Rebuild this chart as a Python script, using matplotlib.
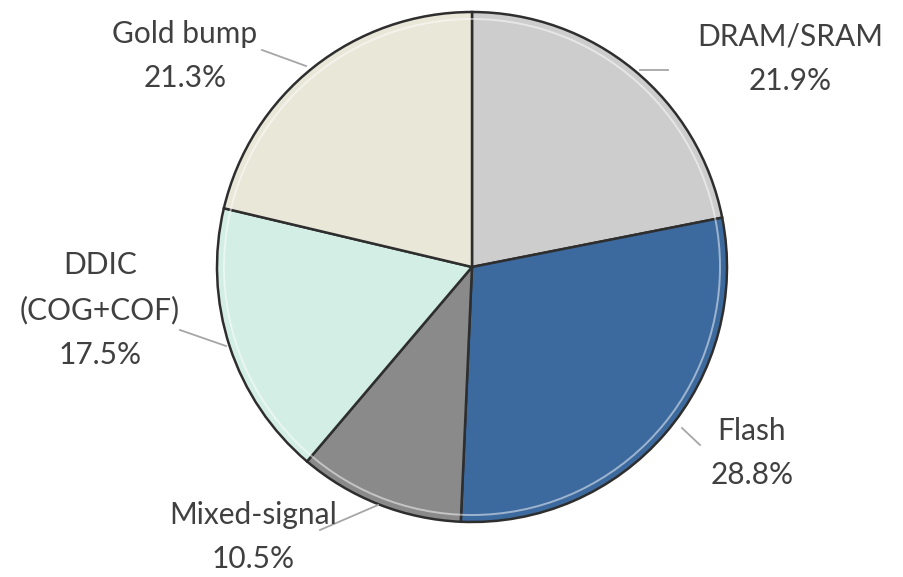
import matplotlib.pyplot as plt
from matplotlib.patches import Circle

labels = ["DRAM/SRAM", "Flash", "Mixed-signal", "DDIC\n(COG+COF)", "Gold bump"]
shares = [21.9, 28.8, 10.5, 17.5, 21.3]
colors = ["#cdcdcd", "#3d6a9e", "#8a8a8a", "#d3eee5", "#e9e7d8"]

# label text anchor (pixel coords of the reference, y down) and leader lines
label_pos = [(790, 59), (752, 453), (253, 537), (100, 310), (185, 56)]
leaders = [[(640, 70), (668, 70)],
           [(682, 428), (700, 445)],
           [(378, 505), (320, 530)],
           [(180, 330), (226, 346)],
           [(262, 50), (306, 66)]]

W, H = 904, 577
cx, cy, r = 472, 267, 255

plt.rcParams['font.family'] = ['Lato', 'DejaVu Sans']
fig = plt.figure(figsize=(W / 100, H / 100), dpi=100)
ax = fig.add_axes([0, 0, 1, 1])

wedges, _ = ax.pie(shares, colors=colors, startangle=90, counterclock=False,
                   center=(cx, H - cy), radius=r,
                   wedgeprops=dict(edgecolor="#2e2e2e", linewidth=1.8))
# soft bevel ring just inside the rim
ax.add_patch(Circle((cx, H - cy), r - 7, fill=False, edgecolor="white",
                    linewidth=1.4, alpha=0.5))

for lab, val, (x, y), seg in zip(labels, shares, label_pos, leaders):
    (x0, y0), (x1, y1) = seg
    ax.plot([x0, x1], [H - y0, H - y1], color="#a6a6a6", lw=1.3)
    ax.text(x, H - y, f"{lab}\n{val:.1f}%", ha="center", va="center",
            fontsize=21.5, color="#404040", linespacing=1.7)

# pie() resets the limits, so set them afterwards
ax.set_xlim(0, W)
ax.set_ylim(0, H)
ax.set_aspect('equal')
ax.axis('off')

fig.savefig("out.png", dpi=100)
